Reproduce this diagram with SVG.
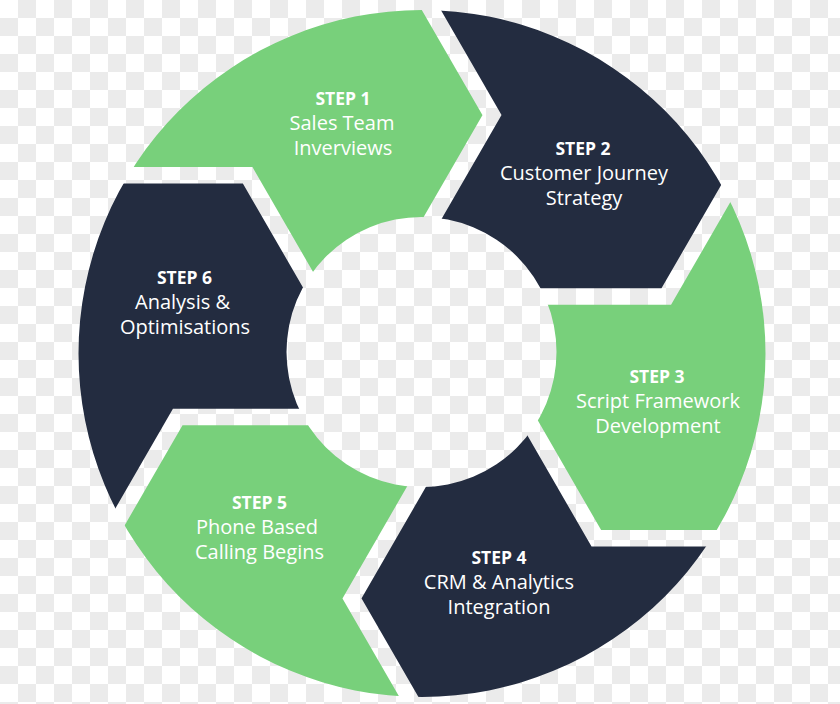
<svg xmlns="http://www.w3.org/2000/svg" width="840" height="704" viewBox="0 0 840 704">
  <defs>
    <pattern id="chk" patternUnits="userSpaceOnUse" x="0" y="0" width="36" height="36">
      <rect width="36" height="36" fill="#ffffff"/>
      <rect x="18" y="0" width="18" height="18" fill="#ebebeb"/>
      <rect x="0" y="18" width="18" height="18" fill="#ebebeb"/>
    </pattern>
    <clipPath id="ring">
      <path clip-rule="evenodd" d="M 78.5,353.5 A 343.5,343.5 0 1 1 765.5,353.5 A 343.5,343.5 0 1 1 78.5,353.5 Z M 286.5,352 A 135,135 0 1 0 556.5,352 A 135,135 0 1 0 286.5,352 Z"/>
    </clipPath>
    <style>
      .seg { clip-path: url(#ring); }
      .green { fill: #78d07b; }
      .dark { fill: #232c40; }
      .gap { fill: none; stroke: url(#chk); stroke-width: 16.5; stroke-linejoin: miter; }
      .lbl { font-family: "Open Sans", "Liberation Sans", sans-serif; fill: #ffffff; text-anchor: middle; font-size: 20px; }
      .step { font-weight: 700; font-size: 17.5px; }
    </style>
  </defs>
  <rect x="0" y="0" width="840" height="704" fill="url(#chk)"/>

  <g id="step1">
    <path class="seg green" d="M 247.7,175.25 L 47.7,175.25 L 83.5,-141.9 L 392,-58.1 L 492,115.1 L 392,288.3 L 421.5,352 L 347.7,348.45 Z"/>
    <text class="lbl"><tspan class="step" x="343" y="105">STEP 1</tspan><tspan x="342" y="130">Sales Team</tspan><tspan x="343" y="155">Inverviews</tspan></text>
  </g>
  <g id="step2">
    <path class="seg dark" d="M 492,115.1 L 392,-58.1 L 685,-185.8 L 766.3,123.3 L 666.3,296.5 L 466.3,296.5 L 421.5,352 L 392,288.3 Z"/>
    <text class="lbl"><tspan class="step" x="583" y="155">STEP 2</tspan><tspan x="584" y="180">Customer Journey</tspan><tspan x="584" y="205">Strategy</tspan></text>
  </g>
  <g id="step3">
    <path class="seg green" d="M 666.3,296.5 L 766.3,123.3 L 1020.7,313.7 L 796.3,538.25 L 596.3,538.25 L 496.3,365.05 L 421.5,352 L 466.3,296.5 Z"/>
    <text class="lbl"><tspan class="step" x="657" y="383">STEP 3</tspan><tspan x="658" y="408">Script Framework</tspan><tspan x="658" y="433">Development</tspan></text>
  </g>
  <g id="step4">
    <path class="seg dark" d="M 596.3,538.25 L 796.3,538.25 L 756.6,851.5 L 452,771.6 L 352,598.4 L 452,425.2 L 421.5,352 L 496.3,365.05 Z"/>
    <text class="lbl"><tspan class="step" x="499" y="564">STEP 4</tspan><tspan x="499" y="589">CRM &amp; Analytics</tspan><tspan x="499" y="614">Integration</tspan></text>
  </g>
  <g id="step5">
    <path class="seg green" d="M 352,598.4 L 452,771.6 L 161.8,894.2 L 77.7,590.2 L 177.7,417 L 377.7,417 L 421.5,352 L 452,425.2 Z"/>
    <text class="lbl"><tspan class="step" x="259.5" y="509">STEP 5</tspan><tspan x="257" y="534">Phone Based</tspan><tspan x="259.5" y="559">Calling Begins</tspan></text>
  </g>
  <g id="step6">
    <path class="seg dark" d="M 177.7,417 L 77.7,590.2 L -176.1,400.6 L 47.7,175.25 L 247.7,175.25 L 347.7,348.45 L 421.5,352 L 377.7,417 Z"/>
    <text class="lbl"><tspan class="step" x="184.5" y="284">STEP 6</tspan><tspan x="182.5" y="309">Analysis &amp;</tspan><tspan x="185" y="334">Optimisations</tspan></text>
  </g>

  <g id="connectors">
    <polyline class="gap" points="796.3,538.25 596.3,538.25 496.3,365.05"/>
    <polyline class="gap" points="452,771.6 352,598.4 452,425.2"/>
    <polyline class="gap" points="77.7,590.2 177.7,417 377.7,417"/>
    <polyline class="gap" points="47.7,175.25 247.7,175.25 347.7,348.45"/>
    <polyline class="gap" points="392,-58.1 492,115.1 392,288.3"/>
    <polyline class="gap" points="766.3,123.3 666.3,296.5 466.3,296.5"/>
  </g>
</svg>
